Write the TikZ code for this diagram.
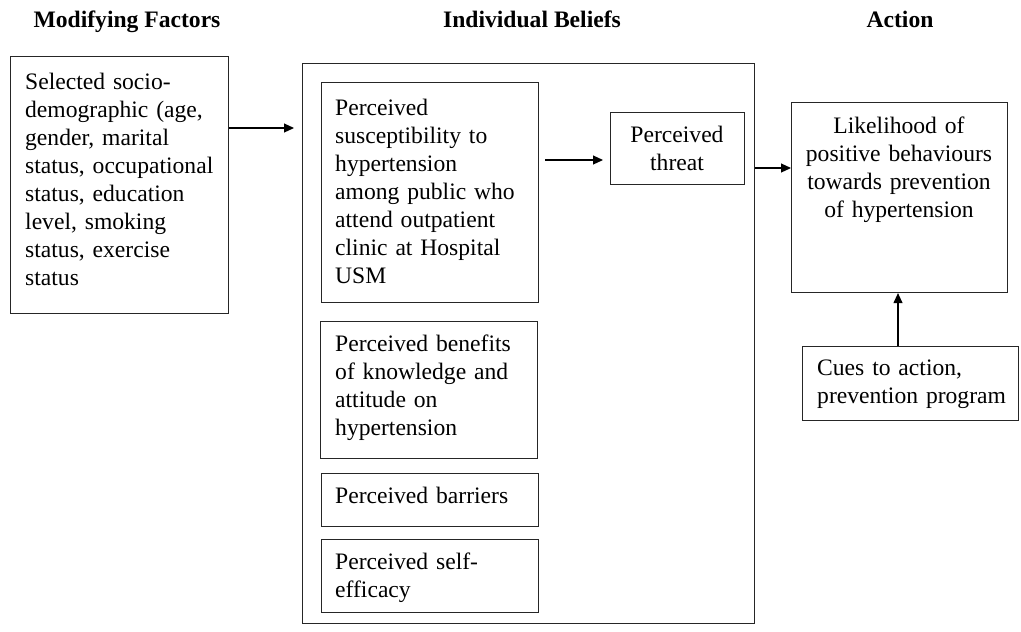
\documentclass[tikz,border=0pt]{standalone}
\usepackage{fontspec}
\setmainfont{Liberation Serif}
\usetikzlibrary{arrows.meta,calc}
\begin{document}
\begin{tikzpicture}[x=1pt,y=-1pt,
  box/.style={draw=black!85, line width=1.1pt, anchor=north west, inner sep=0pt},
  txt/.style={anchor=base west, inner sep=0pt, text width=#1, align=left,
    font=\fontsize{23.6}{28}\selectfont},
  ctxt/.style={anchor=base, inner sep=0pt, text width=#1, align=center,
    font=\fontsize{23.6}{28}\selectfont},
  head/.style={anchor=base, inner sep=0pt, font=\fontsize{23.6}{28}\selectfont\bfseries},
  arr/.style={draw=black, line width=1.1pt, -{Triangle[length=10pt,width=9pt]}}]
\useasboundingbox (0,0) rectangle (1021,632);
\fill[white] (0,0) rectangle (1021,632);

% headers
\node[head] (h1) at (127,27) {Modifying Factors};
\node[head] (h2) at (532,27) {Individual Beliefs};
\node[head] (h3) at (900,27) {Action};

% boxes
\node[box, minimum width=218pt, minimum height=257pt] (mf) at (10,56) {};
\node[box, minimum width=452pt, minimum height=560pt] (ib) at (302,63) {};
\node[box, minimum width=217pt, minimum height=220pt] (sus) at (321,82) {};
\node[box, minimum width=134pt, minimum height=72pt] (thr) at (610,112) {};
\node[box, minimum width=217pt, minimum height=137pt] (ben) at (320,321) {};
\node[box, minimum width=217pt, minimum height=53pt] (bar) at (321,473) {};
\node[box, minimum width=217pt, minimum height=73pt] (se) at (321,539) {};
\node[box, minimum width=216pt, minimum height=190pt] (lik) at (791,102) {};
\node[box, minimum width=216pt, minimum height=74pt] (cue) at (802,346) {};

% texts
\node[txt=205pt] (mft) at (25,89) {Selected socio-\\demographic (age,\\gender, marital\\status, occupational\\status, education\\level, smoking\\status, exercise\\status};
\node[txt=200pt] (sust) at (335,115) {Perceived\\susceptibility to\\hypertension\\among public who\\attend outpatient\\clinic at Hospital\\USM};
\node[ctxt=130pt] (thrt) at (677,142) {Perceived\\threat};
\node[txt=200pt] (bent) at (335,351) {Perceived benefits\\of knowledge and\\attitude on\\hypertension};
\node[txt=200pt] (bart) at (335,503) {Perceived barriers};
\node[txt=200pt] (set) at (335,569) {Perceived self-\\efficacy};
\node[ctxt=210pt] (likt) at (899,133) {Likelihood of\\positive behaviours\\towards prevention\\of hypertension};
\node[txt=200pt] (cuet) at (817,375) {Cues to action,\\prevention program};

% connectors
\coordinate (a1s) at (228,128);
\coordinate (a1e) at (294,128);
\draw[arr] (mf.east |- a1s) -- (a1e);
\coordinate (a2s) at (545,160);
\coordinate (a2e) at (603,160);
\draw[arr] (a2s) -- (a2e);
\coordinate (a3) at (0,168);
\draw[arr] (ib.east |- a3) -- (lik.west |- a3);
\coordinate (a4) at (898,0);
\draw[arr] (cue.north -| a4) -- (lik.south -| a4);
\end{tikzpicture}
\end{document}
